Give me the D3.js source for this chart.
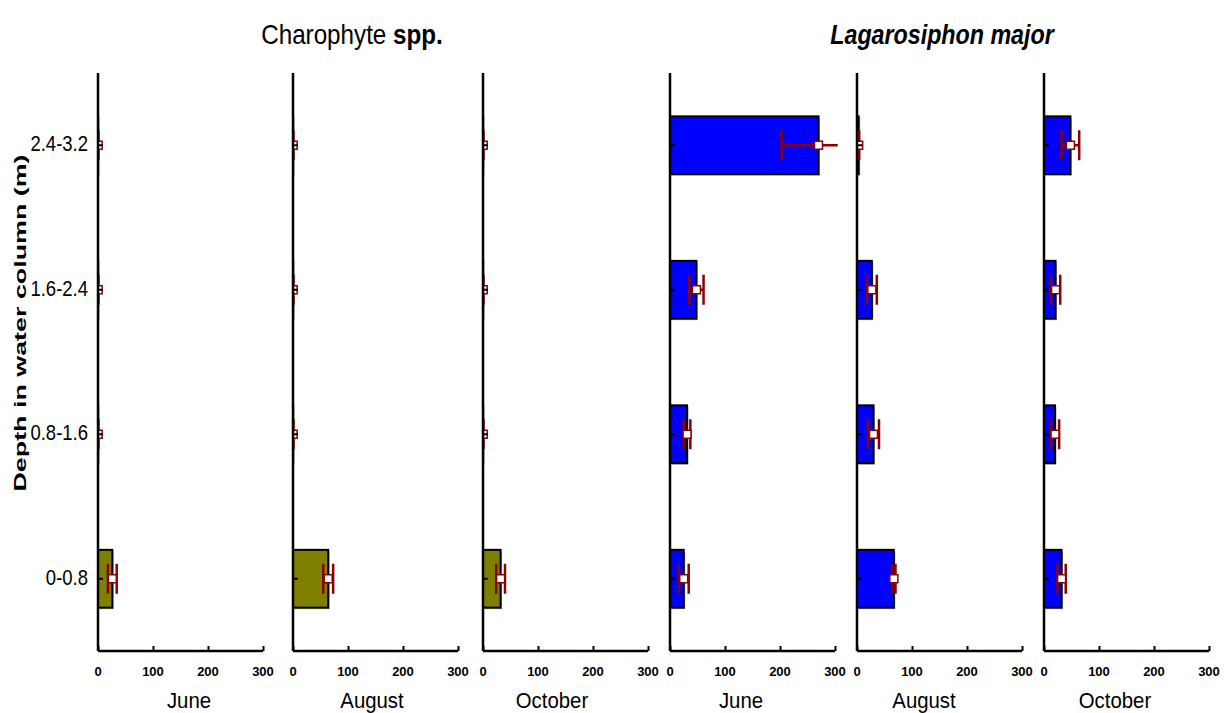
<!DOCTYPE html>
<html>
<head>
<meta charset="utf-8">
<script src="https://cdn.jsdelivr.net/npm/d3@7"></script>
<style>
  body { margin: 0; background: #fff; }
  svg { display: block; }
  .lbl { font-family: "Liberation Sans", Arial, sans-serif; }
  .tick-lbl { font-family: "Liberation Sans", Arial, sans-serif; font-weight: bold; font-size: 13px; }
</style>
</head>
<body>
<svg id="chart" width="1228" height="713"></svg>
<script>
// Depth classes (top of axis = deepest)
const depths = ["2.4-3.2", "1.6-2.4", "0.8-1.6", "0-0.8"];
const months = ["June", "August", "October"];
const xTicks = [0, 100, 200, 300];

// Mean biomass per depth class (same order as depths), and standard error
const charaJune    = [0.3, 0.3, 0.3, 26];
const charaJuneSE  = [0.3, 0.3, 0.3, 8];
const charaAug     = [0.3, 0.3, 0.3, 64];
const charaAugSE   = [0.3, 0.3, 0.3, 9];
const charaOct     = [0.3, 0.3, 0.3, 32];
const charaOctSE   = [0.3, 0.3, 0.3, 8];
const lagaJune     = [270, 48, 31, 25];
const lagaJuneSE   = [67, 13, 6, 9];
const lagaAug      = [3, 27, 30, 67];
const lagaAugSE    = [1, 9, 10, 3];
const lagaOct      = [48, 21, 20, 32];
const lagaOctSE    = [16, 8.5, 7.5, 7.5];

const panels = [
  { means: charaJune, se: charaJuneSE, month: months[0], fill: "#808000" },
  { means: charaAug,  se: charaAugSE,  month: months[1], fill: "#808000" },
  { means: charaOct,  se: charaOctSE,  month: months[2], fill: "#808000" },
  { means: lagaJune,  se: lagaJuneSE,  month: months[0], fill: "#0000ff" },
  { means: lagaAug,   se: lagaAugSE,   month: months[1], fill: "#0000ff" },
  { means: lagaOct,   se: lagaOctSE,   month: months[2], fill: "#0000ff" }
];

// Layout
const axisX = [98, 293, 483, 670, 857, 1044];
const monthOffset = [91, 79, 69, 71, 67, 71];
const panelW = 165;
const plotTop = 73, plotBottom = 651;
const errColor = "#8b0000";

const svg = d3.select("#chart");
const defs = svg.append("defs");

const y = d3.scaleBand().domain(depths).range([plotTop, plotBottom]).paddingInner(0.6).paddingOuter(0.3);

panels.forEach((p, i) => {
  const x0 = axisX[i];
  const x = d3.scaleLinear().domain([0, 300]).range([x0, x0 + panelW]);
  const bh = y.bandwidth();
  const rows = depths.map((d, j) => ({ depth: d, mean: p.means[j], se: p.se[j] }));

  // marks are clipped to the plotting area (0 .. 305 on the value axis)
  const clipId = "clip" + i;
  defs.append("clipPath").attr("id", clipId).append("rect")
    .attr("x", x(0)).attr("y", plotTop - 20)
    .attr("width", x(305) - x(0)).attr("height", plotBottom - plotTop + 20);

  const g = svg.append("g");
  const marks = g.append("g").attr("clip-path", `url(#${clipId})`);

  // shadow under bars
  marks.selectAll("rect.shadow").data(rows).join("rect")
    .attr("x", x(0) + 1.5)
    .attr("y", d => y(d.depth) + 1.5)
    .attr("width", d => x(d.mean) - x(0))
    .attr("height", bh)
    .attr("fill", "#aaa");

  marks.selectAll("rect.bar").data(rows).join("rect")
    .attr("x", x(0))
    .attr("y", d => y(d.depth))
    .attr("width", d => x(d.mean) - x(0))
    .attr("height", bh)
    .attr("fill", p.fill)
    .attr("stroke", "#000")
    .attr("stroke-width", 2);

  // error bars: mean ± SE with end caps
  const capH = 30;
  rows.forEach(d => {
    const cy = y(d.depth) + bh / 2;
    const lo = d.mean - d.se;
    const hi = d.mean + d.se;
    marks.append("line")
      .attr("x1", x(lo)).attr("x2", x(hi)).attr("y1", cy).attr("y2", cy)
      .attr("stroke", errColor).attr("stroke-width", 2.5);
    [lo, hi].forEach(v => {
      marks.append("line")
        .attr("x1", x(v)).attr("x2", x(v)).attr("y1", cy - capH / 2).attr("y2", cy + capH / 2)
        .attr("stroke", errColor).attr("stroke-width", 2.5);
    });
  });

  // axes
  const yAxis = d3.axisRight(y).tickSize(5).tickFormat("");
  g.append("g").attr("transform", `translate(${x0},0)`).call(yAxis)
    .call(s => s.select(".domain").remove())
    .selectAll("line").attr("stroke", "#000").attr("stroke-width", 2);

  // mean markers
  marks.selectAll("rect.mean").data(rows).join("rect")
    .attr("x", d => x(d.mean) - 4)
    .attr("y", d => y(d.depth) + bh / 2 - 4)
    .attr("width", 8).attr("height", 8)
    .attr("fill", "#fff").attr("stroke", errColor).attr("stroke-width", 1.5);

  g.append("line").attr("x1", x0).attr("x2", x0).attr("y1", plotTop).attr("y2", plotBottom)
    .attr("stroke", "#000").attr("stroke-width", 2.5);

  const xAxis = d3.axisTop(x).tickValues(xTicks).tickSize(5).tickFormat("");
  g.append("g").attr("transform", `translate(0,${plotBottom})`).call(xAxis)
    .call(s => s.select(".domain").remove())
    .selectAll("line").attr("stroke", "#000").attr("stroke-width", 2);
  g.append("line").attr("x1", x0).attr("x2", x0 + panelW).attr("y1", plotBottom).attr("y2", plotBottom)
    .attr("stroke", "#000").attr("stroke-width", 2.5);

  g.selectAll("text.tl").data(xTicks).join("text")
    .attr("class", "tick-lbl")
    .attr("x", d => x(d)).attr("y", 676)
    .attr("text-anchor", "middle")
    .text(d => d);

  g.append("text").attr("class", "lbl")
    .attr("transform", `translate(${x0 + monthOffset[i]},708) scale(0.97,1.08)`)
    .attr("text-anchor", "middle").attr("font-size", 21)
    .text(p.month);

  if (i === 0) {
    g.selectAll("text.cat").data(depths).join("text")
      .attr("class", "lbl")
      .attr("transform", d => `translate(${x0 - 10},${y(d) + bh / 2 + 6}) scale(1,1.18)`)
      .attr("text-anchor", "end").attr("font-size", 18.5)
      .text(d => d);
  }
});

// axis title
svg.append("text").attr("class", "lbl")
  .attr("transform", "translate(26,323) rotate(-90) scale(1.58,1)")
  .attr("text-anchor", "middle")
  .attr("font-weight", "bold").attr("font-size", 17)
  .text("Depth in water column (m)");

// species headings
const h1 = svg.append("text").attr("class", "lbl")
  .attr("transform", "translate(352,44) scale(0.95,1.1)")
  .attr("text-anchor", "middle").attr("font-size", 25.5);
h1.append("tspan").text("Charophyte ");
h1.append("tspan").attr("font-weight", "bold").text("spp.");

svg.append("text").attr("class", "lbl")
  .attr("transform", "translate(942,44) scale(0.95,1.1)")
  .attr("text-anchor", "middle").attr("font-size", 24.5)
  .attr("font-weight", "bold").attr("font-style", "italic")
  .text("Lagarosiphon major");
</script>
</body>
</html>
